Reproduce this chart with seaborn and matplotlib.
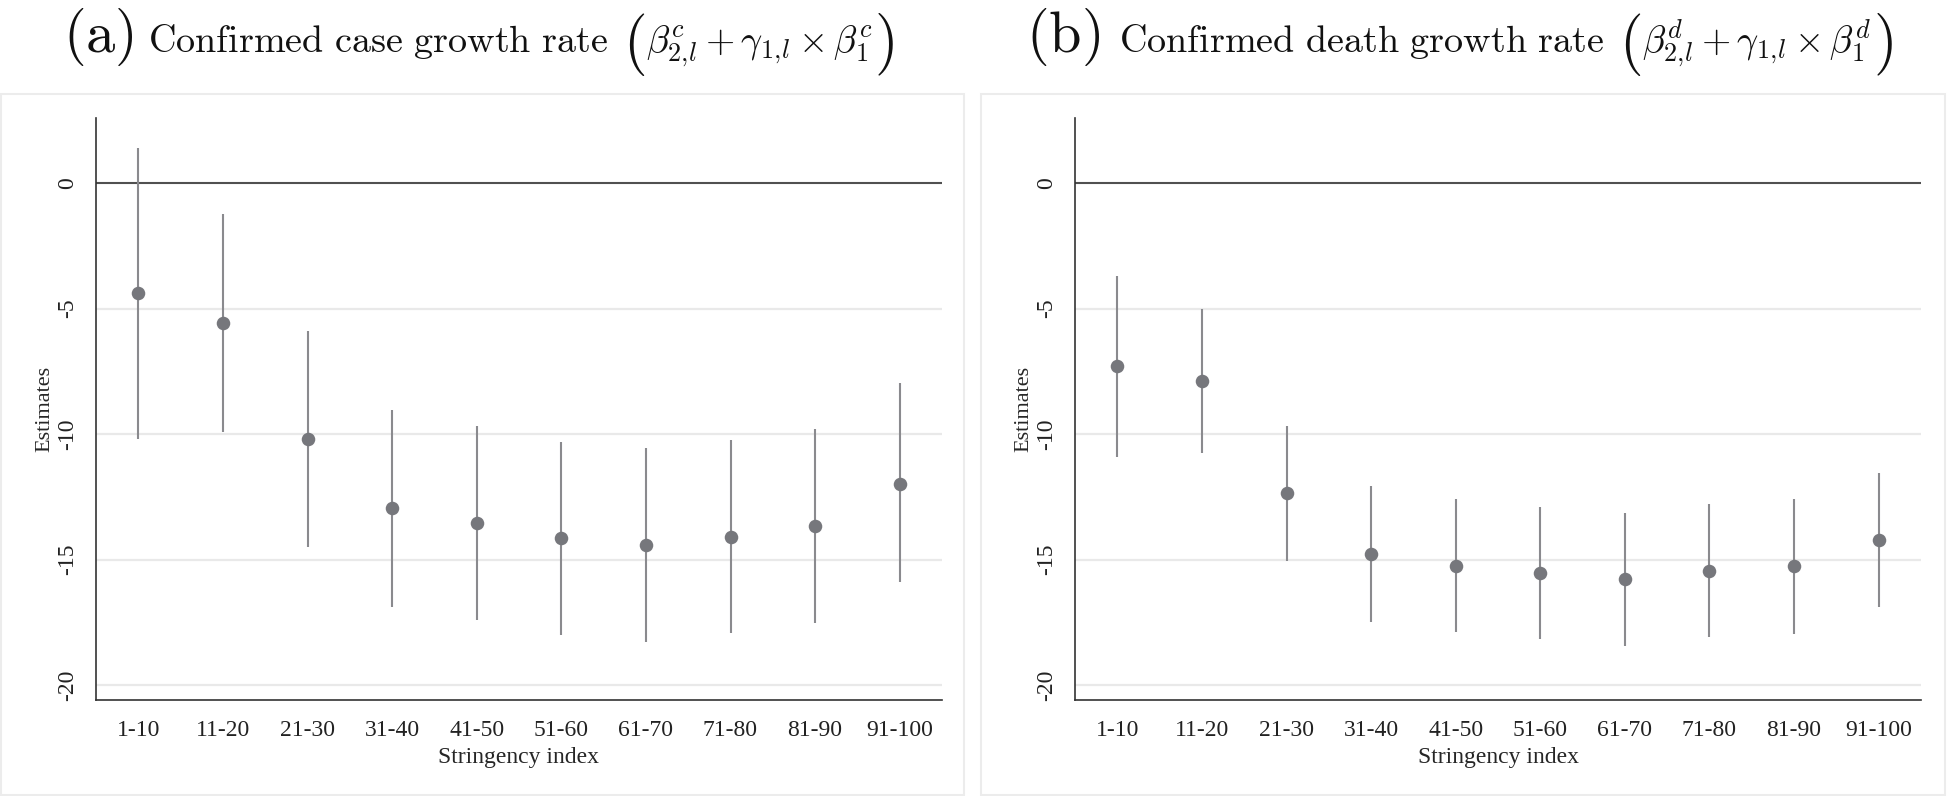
import numpy as np
import pandas as pd
import matplotlib
matplotlib.use("Agg")
import matplotlib.pyplot as plt
import seaborn as sns
from matplotlib.patches import Rectangle


OUTPUT_PATH = "out.png"

GROUPS = ["1-10", "11-20", "21-30", "31-40", "41-50",
          "51-60", "61-70", "71-80", "81-90", "91-100"]

# panel (a): confirmed case growth rate
CASE_EST = [-4.39, -5.56, -10.19, -12.96, -13.56, -14.15, -14.43, -14.09, -13.66, -11.97]
CASE_LO = [-10.20, -9.90, -14.49, -16.88, -17.41, -18.01, -18.30, -17.94, -17.52, -15.91]
CASE_HI = [1.42, -1.24, -5.89, -9.04, -9.68, -10.31, -10.54, -10.23, -9.80, -7.97]

# panel (b): confirmed death growth rate
DEATH_EST = [-7.27, -7.88, -12.36, -14.78, -15.24, -15.55, -15.79, -15.46, -15.26, -14.22]
DEATH_LO = [-10.90, -10.77, -15.06, -17.48, -17.90, -18.17, -18.45, -18.07, -17.95, -16.88]
DEATH_HI = [-3.70, -5.01, -9.66, -12.05, -12.59, -12.92, -13.13, -12.79, -12.59, -11.54]

Y_TICKS = [0, -5, -10, -15, -20]

PANELS = [
    {
        "tag": "a",
        "title": r"$\mathrm{Confirmed\ case\ growth\ rate}$",
        "math": r"$\beta^{c}_{2,\!l}+\gamma_{1,\!l}\times\beta^{c}_{1}$",
        "est": CASE_EST, "lo": CASE_LO, "hi": CASE_HI,
    },
    {
        "tag": "b",
        "title": r"$\mathrm{Confirmed\ death\ growth\ rate}$",
        "math": r"$\beta^{d}_{2,\!l}+\gamma_{1,\!l}\times\beta^{d}_{1}$",
        "est": DEATH_EST, "lo": DEATH_LO, "hi": DEATH_HI,
    },
]

W, H = 1952, 796
AX_LEFTS = [96, 1075]
AX_WIDTH = 846
AX_TOP, AX_BOTTOM = 118, 700
BOXES = [(1, 964), (981, 1945)]
TAG_X = [63, 1026]
TITLE_X = [148, 1119]
BASE = 52
PAREN_BASE = 60

MARKER_COLOR = "#76777c"
LINE_COLOR = "#8a8a8e"
TEXT_COLOR = "#111111"


def fx(px):
    return px / W


def fy(py):
    return 1 - py / H


def draw_panel(ax, panel):
    df = pd.DataFrame({
        "group": GROUPS,
        "est": panel["est"],
        "lo": panel["lo"],
        "hi": panel["hi"],
    })
    df["pos"] = np.arange(len(df))

    for y in Y_TICKS[1:]:
        ax.axhline(y, color="#e9e9e9", lw=1.6, zorder=0)
    ax.axhline(0, color="#505050", lw=1.5, zorder=1)

    ax.vlines(df["pos"], df["lo"], df["hi"], color=LINE_COLOR, lw=1.5, zorder=2)
    sns.scatterplot(data=df, x="pos", y="est", ax=ax, s=95, color=MARKER_COLOR,
                    edgecolor=MARKER_COLOR, linewidth=0, zorder=3, legend=False)

    ax.set_xlim(-0.5, 9.5)
    ax.set_ylim(-20.6, 2.6)
    ax.set_xticks(df["pos"])
    ax.set_xticklabels(GROUPS)
    ax.set_yticks(Y_TICKS)
    ax.set_yticklabels([str(t) for t in Y_TICKS])
    ax.set_xlabel("Stringency index", fontsize=17, labelpad=4)
    ax.set_ylabel("Estimates", fontsize=16, labelpad=2)

    sns.despine(ax=ax)
    for side in ["left", "bottom"]:
        ax.spines[side].set_color("#333333")
        ax.spines[side].set_linewidth(1.2)
    ax.tick_params(axis="both", direction="out", length=7, width=1.0,
                   color="#333333", labelsize=17, labelcolor="#222222")
    ax.tick_params(axis="x", pad=7.5)
    ax.tick_params(axis="y", pad=6)
    for lab in ax.get_yticklabels():
        lab.set_rotation(90)
        lab.set_verticalalignment("center")


def draw_title(fig, renderer, i, panel):
    # "(a)" tag, then title text, then the bracketed expression with tall parens
    fig.text(fx(TAG_X[i]), fy(BASE), r"$(\mathrm{" + panel["tag"] + r"})$",
             fontsize=42, ha="left", va="baseline", color=TEXT_COLOR)
    t = fig.text(fx(TITLE_X[i]), fy(BASE), panel["title"],
                 fontsize=27.5, ha="left", va="baseline", color=TEXT_COLOR)
    x = t.get_window_extent(renderer).x1 + 15
    t = fig.text(fx(x), fy(PAREN_BASE), r"$($", fontsize=44,
                 ha="left", va="baseline", color=TEXT_COLOR)
    x = t.get_window_extent(renderer).x1 + 1
    t = fig.text(fx(x), fy(BASE), panel["math"], fontsize=27,
                 ha="left", va="baseline", color=TEXT_COLOR)
    x = t.get_window_extent(renderer).x1 + 1
    fig.text(fx(x), fy(PAREN_BASE), r"$)$", fontsize=44,
             ha="left", va="baseline", color=TEXT_COLOR)


def main():
    sns.set_theme(style="white")
    plt.rcParams["font.family"] = ["Liberation Serif", "DejaVu Serif"]
    plt.rcParams["mathtext.fontset"] = "cm"
    plt.rcParams["axes.unicode_minus"] = False

    fig = plt.figure(figsize=(W / 100, H / 100), dpi=100)
    fig.patch.set_facecolor("white")
    renderer = fig.canvas.get_renderer()

    for i, panel in enumerate(PANELS):
        x0, x1 = BOXES[i]
        fig.patches.append(Rectangle((fx(x0), fy(795)), fx(x1 - x0), (795 - 94) / H,
                                     transform=fig.transFigure, fill=False,
                                     edgecolor="#ececec", lw=1.5, zorder=0))
        ax = fig.add_axes([fx(AX_LEFTS[i]), fy(AX_BOTTOM), fx(AX_WIDTH),
                           (AX_BOTTOM - AX_TOP) / H])
        ax.set_facecolor("none")
        draw_panel(ax, panel)
        draw_title(fig, renderer, i, panel)

    fig.savefig(OUTPUT_PATH, dpi=100)
    plt.close(fig)


if __name__ == "__main__":
    main()
